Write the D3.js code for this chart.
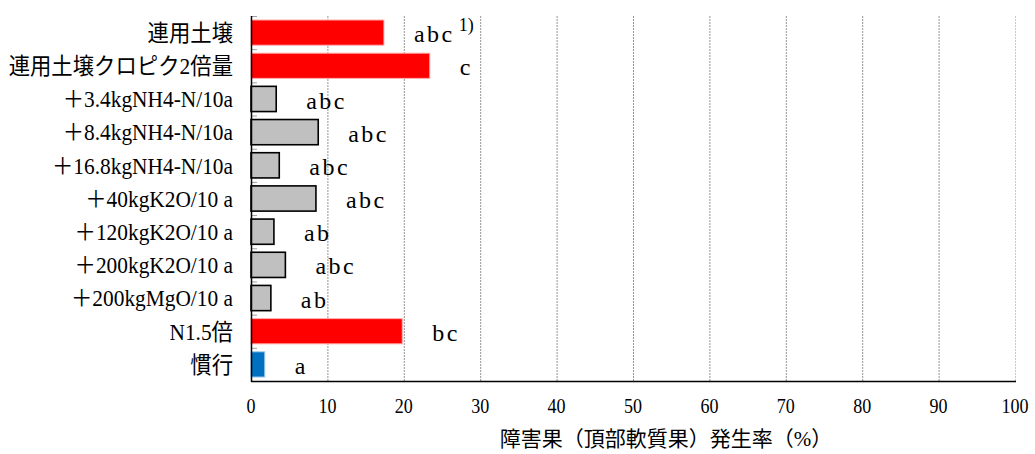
<!DOCTYPE html>
<html>
<head>
<meta charset="utf-8">
<script src="https://cdn.jsdelivr.net/npm/d3@7"></script>
<style>
  body { margin: 0; background: #fff; }
  text { font-family: "Liberation Serif", "Noto Sans CJK JP", serif; fill: #000; }
</style>
</head>
<body>
<div class="chart"></div>
<script>
// data
const categories = ['連用土壌', '連用土壌クロピク2倍量', '＋3.4kgNH4-N/10a', '＋8.4kgNH4-N/10a',
  '＋16.8kgNH4-N/10a', '＋40kgK2O/10 a', '＋120kgK2O/10 a', '＋200kgK2O/10 a',
  '＋200kgMgO/10 a', 'N1.5倍', '慣行'];
const rates = [17.4, 23.4, 3.3, 8.8, 3.7, 8.5, 3.0, 4.5, 2.6, 19.8, 1.8];
const letters = ['abc', 'c', 'abc', 'abc', 'abc', 'abc', 'ab', 'abc', 'ab', 'bc', 'a'];
const groups = ['high', 'high', 'fert', 'fert', 'fert', 'fert', 'fert', 'fert', 'fert', 'high', 'ctrl'];
const xTicks = [0, 10, 20, 30, 40, 50, 60, 70, 80, 90, 100];
const xTitle = '障害果（頂部軟質果）発生率（%）';

const data = categories.map((c, i) => ({cat: c, v: rates[i], lab: letters[i], g: groups[i]}));

const width = 1035, height = 454;
const mLeft = 251, mRight = 1015, mTop = 16, mBottom = 381;

const svg = d3.select('.chart').append('svg')
  .attr('width', width)
  .attr('height', height);

const x = d3.scaleLinear().domain([0, 100]).range([mLeft, mRight]);
const y = d3.scaleBand().domain(categories).range([mTop, mBottom])
  .paddingInner(0.24).paddingOuter(0.12);
const fill = d3.scaleOrdinal().domain(['high', 'fert', 'ctrl']).range(['#ff0000', '#c0c0c0', '#0070c0']);
const edge = d3.scaleOrdinal().domain(['high', 'fert', 'ctrl']).range(['#ffb0b0', '#000000', '#9cc8ec']);

// gridlines
svg.selectAll('line.grid')
  .data(xTicks.filter(d => d > 0))
  .enter()
  .append('line')
  .attr('class', 'grid')
  .attr('x1', d => x(d) + 0.5).attr('x2', d => x(d) + 0.5)
  .attr('y1', mTop).attr('y2', mBottom)
  .attr('stroke', d => d == 100 ? '#c8c8c8' : '#949494')
  .attr('stroke-width', 1)
  .attr('stroke-dasharray', '2,1');

// bars
svg.selectAll('rect.bar')
  .data(data)
  .enter()
  .append('rect')
  .attr('class', 'bar')
  .attr('x', x(0))
  .attr('y', d => y(d.cat))
  .attr('width', d => x(d.v) - x(0))
  .attr('height', y.bandwidth())
  .attr('fill', d => fill(d.g))
  .attr('stroke', d => edge(d.g))
  .attr('stroke-width', d => d.g == 'fert' ? 1.6 : 1);

// category ticks (inside, at band edges)
const step = y.step();
svg.selectAll('line.ytick')
  .data(d3.range(categories.length))
  .enter()
  .append('line')
  .attr('class', 'ytick')
  .attr('x1', mLeft).attr('x2', mLeft + 6)
  .attr('y1', i => mTop + i * step + 0.5)
  .attr('y2', i => mTop + i * step + 0.5)
  .attr('stroke', '#a0a0a0');

// axes lines
svg.append('line')
  .attr('x1', mLeft + 0.5).attr('x2', mLeft + 0.5)
  .attr('y1', mTop).attr('y2', mBottom + 1)
  .attr('stroke', '#000').attr('stroke-width', 1.5);
svg.append('line')
  .attr('x1', mLeft).attr('x2', mRight + 1)
  .attr('y1', mBottom + 0.5).attr('y2', mBottom + 0.5)
  .attr('stroke', '#000').attr('stroke-width', 1.5);

// category labels (slightly narrow, as in the original)
svg.selectAll('text.cat')
  .data(data)
  .enter()
  .append('text')
  .attr('class', 'cat')
  .attr('transform', d => `translate(233,${y(d.cat) + y.bandwidth() / 2}) scale(0.93,1)`)
  .attr('dy', '0.36em')
  .attr('text-anchor', 'end')
  .attr('font-size', '23px')
  .text(d => d.cat);

// significance letters
const lab = svg.selectAll('text.sig')
  .data(data)
  .enter()
  .append('text')
  .attr('class', 'sig')
  .attr('x', d => x(d.v) + 30)
  .attr('y', d => y(d.cat) + y.bandwidth() / 2)
  .attr('dy', '0.4em')
  .attr('font-size', '24px')
  .attr('letter-spacing', '2.5px')
  .text(d => d.lab);

// footnote marker on the first label
lab.filter((d, i) => i == 0)
  .append('tspan')
  .attr('dx', 4)
  .attr('dy', '-0.62em')
  .attr('font-size', '18px')
  .attr('letter-spacing', '0px')
  .text('1)');

// x tick labels
svg.selectAll('text.xt')
  .data(xTicks)
  .enter()
  .append('text')
  .attr('class', 'xt')
  .attr('transform', d => `translate(${x(d)},413) scale(0.82,1)`)
  .attr('text-anchor', 'middle')
  .attr('font-size', '22px')
  .text(d => d);

svg.append('text')
  .attr('x', 666)
  .attr('y', 446)
  .attr('text-anchor', 'middle')
  .attr('font-size', '21px')
  .text(xTitle);
</script>
</body>
</html>
